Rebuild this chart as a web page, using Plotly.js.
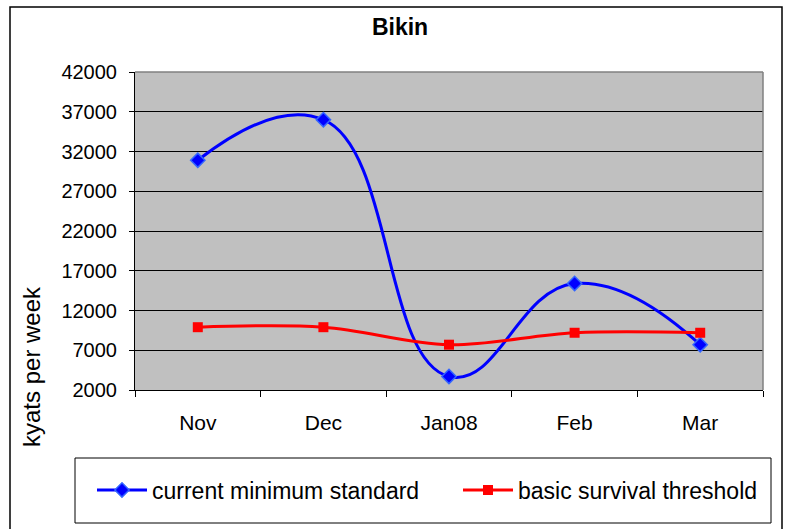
<!DOCTYPE html>
<html><head><meta charset="utf-8">
<script src="https://cdn.plot.ly/plotly-3.0.1.min.js"></script>
<style>html,body{margin:0;padding:0;background:#fff;}#chart{width:788px;height:529px;}</style>
</head><body><div id="chart"></div>
<script>
const categories = ["Nov", "Dec", "Jan08", "Feb", "Mar"];
const currentMinimum = [30900, 36000, 3700, 15400, 7700];
const survivalThreshold = [9900, 9900, 7700, 9200, 9200];
const yTicks = [2000, 7000, 12000, 17000, 22000, 27000, 32000, 37000, 42000];

const font = "Liberation Sans, Arial, sans-serif";
const L = 135, R = 25, T = 72, B = 139, W = 788, H = 529;
const pw = W - L - R, ph = H - T - B;
const px = v => (v - L) / pw;
const py = v => (H - B - v) / ph;

const traces = [
  {x: categories, y: currentMinimum, name: "current minimum standard", type: "scatter", mode: "lines+markers",
   legend: "legend",
   line: {color: "#0000FF", width: 3, shape: "spline", smoothing: 1.3},
   marker: {symbol: "diamond", size: 11, color: "#0000FF", line: {color: "#3366FF", width: 1.5}}},
  {x: categories, y: survivalThreshold, name: "basic survival threshold", type: "scatter", mode: "lines+markers",
   legend: "legend2",
   line: {color: "#FF0000", width: 3, shape: "spline", smoothing: 1},
   marker: {symbol: "square", size: 10, color: "#FF0000"}}
];

const legendBase = {orientation: "h", xref: "container", yref: "container", xanchor: "left",
  y: 1 - 490 / H, yanchor: "middle", bgcolor: "rgba(0,0,0,0)", borderwidth: 0,
  font: {family: font, size: 23, color: "#000"}, itemwidth: 50};

const layout = {
  width: W, height: H,
  margin: {l: L, r: R, t: T, b: B, pad: 0},
  paper_bgcolor: "#ffffff", plot_bgcolor: "#C0C0C0",
  font: {family: font, size: 20, color: "#000"},
  title: {text: "<b>Bikin</b>", xref: "container", yref: "container", x: 400 / W, xanchor: "center",
          y: 1 - 27 / H, yanchor: "middle",
          font: {family: font, size: 23, color: "#000"}},
  xaxis: {type: "category", tickson: "boundaries", ticks: "outside", ticklen: 6, tickcolor: "#000",
          showgrid: false, showline: true, linecolor: "#000", linewidth: 1, zeroline: false,
          range: [-0.5, 4.5], fixedrange: true, ticklabelstandoff: 14,
          tickfont: {family: font, size: 21, color: "#000"}},
  yaxis: {range: [2000, 42000], tickvals: yTicks, ticktext: yTicks.map(String),
          ticks: "outside", ticklen: 5, tickcolor: "#000",
          showgrid: true, gridcolor: "#000", gridwidth: 1, showline: true, linecolor: "#000", linewidth: 1,
          zeroline: false, fixedrange: true, ticklabelstandoff: 8,
          tickfont: {family: font, size: 20, color: "#000"}},
  annotations: [
    {text: "kyats per week", xref: "paper", yref: "paper", x: px(31), y: py(367), xanchor: "center", yanchor: "middle",
     textangle: -90, showarrow: false, font: {family: font, size: 24, color: "#000"}}
  ],
  showlegend: true,
  legend: Object.assign({}, legendBase, {x: 92 / W}),
  legend2: Object.assign({}, legendBase, {x: 458 / W}),
  shapes: [
    {type: "line", xref: "paper", yref: "paper", x0: 0, x1: 1, y0: 1, y1: 1, line: {color: "#808080", width: 1.5}},
    {type: "line", xref: "paper", yref: "paper", x0: 1, x1: 1, y0: 0, y1: 1, line: {color: "#808080", width: 1.5}},
    {type: "rect", xref: "paper", yref: "paper", x0: px(10), x1: px(782), y0: py(540), y1: py(7),
     line: {color: "#000", width: 1.5}, layer: "below"},
    {type: "rect", xref: "paper", yref: "paper", x0: px(75), x1: px(771), y0: py(523), y1: py(458),
     line: {color: "#000", width: 1}, layer: "below"}
  ]
};

Plotly.newPlot("chart", traces, layout, {displayModeBar: false, staticPlot: true});
</script></body></html>
